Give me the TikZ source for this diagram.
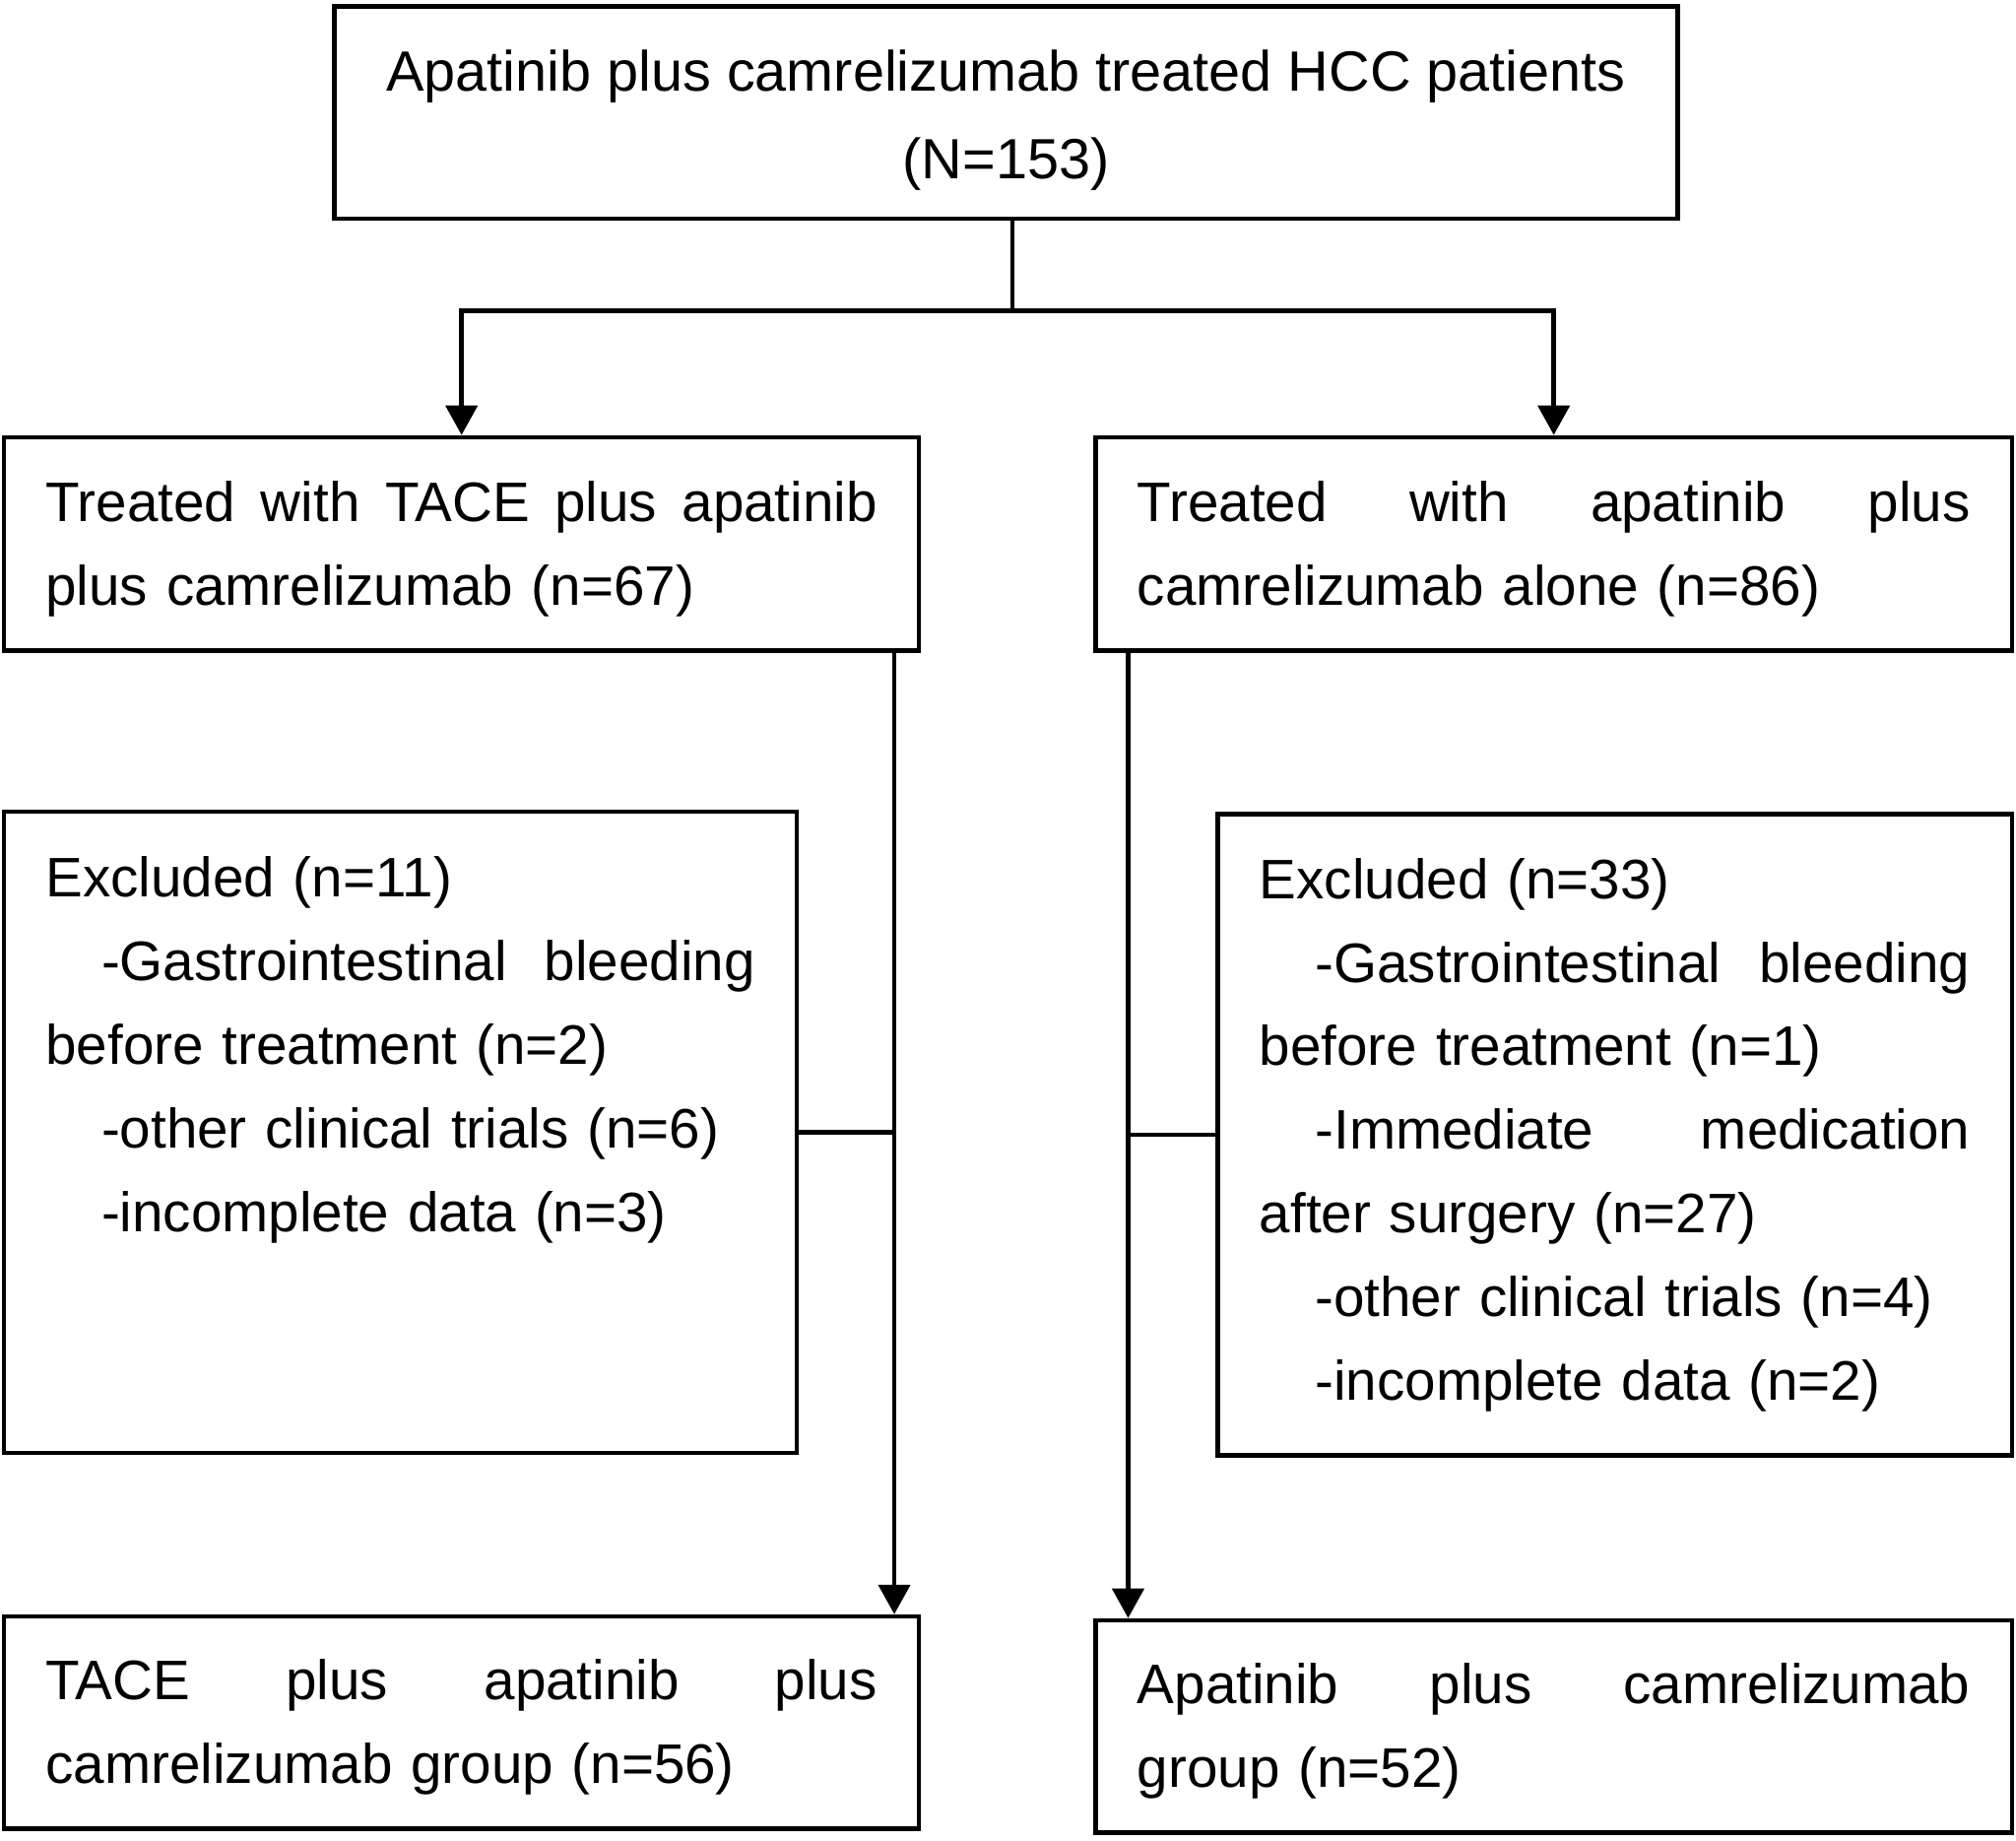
\documentclass[tikz,border=0pt]{standalone}
\usepackage{fontspec}
\setmainfont{Liberation Sans}
\usetikzlibrary{arrows.meta,calc}
\newcommand{\px}{0.013055cm}
\newcommand{\lift}{\rule{0pt}{14.4pt}}
\begin{document}
\begin{tikzpicture}[x=\px, y=-\px, line width=1.3pt,
  box/.style={shape=rectangle, draw=black, inner xsep=0.424cm, inner ysep=0pt, align=left, font=\fontsize{16.1}{24.15}\selectfont},
  arr/.style={-{Triangle[length=3mm,width=3.2mm]}}]
\useasboundingbox (0,0) rectangle (1568,1431.6);
\node[box, align=center, font=\fontsize{16.4}{25.3}\selectfont, minimum width=13.642cm, minimum height=2.154cm] (1) at (782.5,87.5) {\rule{0pt}{16.2pt}Apatinib plus camrelizumab treated HCC patients\\(N=153)};
\node[box, text width=8.447cm, minimum height=2.167cm] (2) at (359,423) {\lift Treated\hfill with\hfill TACE\hfill plus\hfill apatinib\\plus camrelizumab (n=67)};
\node[box, text width=8.460cm, minimum height=2.167cm] (3) at (1208.5,423) {\lift Treated\hfill with\hfill apatinib\hfill plus\\camrelizumab alone (n=86)};
\node[box, text width=7.206cm, minimum height=6.514cm] (4) at (311.5,880.5) {Excluded (n=11)\\\hspace*{1em}-Gastrointestinal\hfill bleeding\\before treatment (n=2)\\\hspace*{1em}-other clinical trials (n=6)\\\hspace*{1em}-incomplete data (n=3)\\\mbox{}\\\rule[-2.6pt]{0pt}{0pt}};
\node[box, text width=7.219cm, minimum height=6.514cm] (5) at (1256,882.5) {Excluded (n=33)\\\hspace*{1em}-Gastrointestinal\hfill bleeding\\before treatment (n=1)\\\hspace*{1em}-Immediate\hfill medication\\after surgery (n=27)\\\hspace*{1em}-other clinical trials (n=4)\\\hspace*{1em}-incomplete data (n=2)};
\node[box, text width=8.447cm, minimum height=2.154cm] (6) at (359,1339.5) {\lift TACE\hfill plus\hfill apatinib\hfill plus\\camrelizumab group (n=56)};
\node[box, text width=8.460cm, minimum height=2.154cm] (7) at (1208.5,1342.5) {\lift Apatinib\hfill plus\hfill camrelizumab\\group (n=52)};
\coordinate (m) at ($(1.south)+(5,70)$);
\coordinate (l) at ($(2.south east)+(-21,0)$);
\coordinate (r) at ($(3.south west)+(27,0)$);
\draw (1.south -| m) -- (m);
\draw[arr] (m) -| (2.north);
\draw[arr] (m) -| (3.north);
\draw[arr] (l) -- (l |- 6.north);
\draw[arr] (r) -- (r |- 7.north);
\draw (4.east) -- (4.east -| l);
\draw (5.west) -- (5.west -| r);
\end{tikzpicture}
\end{document}
